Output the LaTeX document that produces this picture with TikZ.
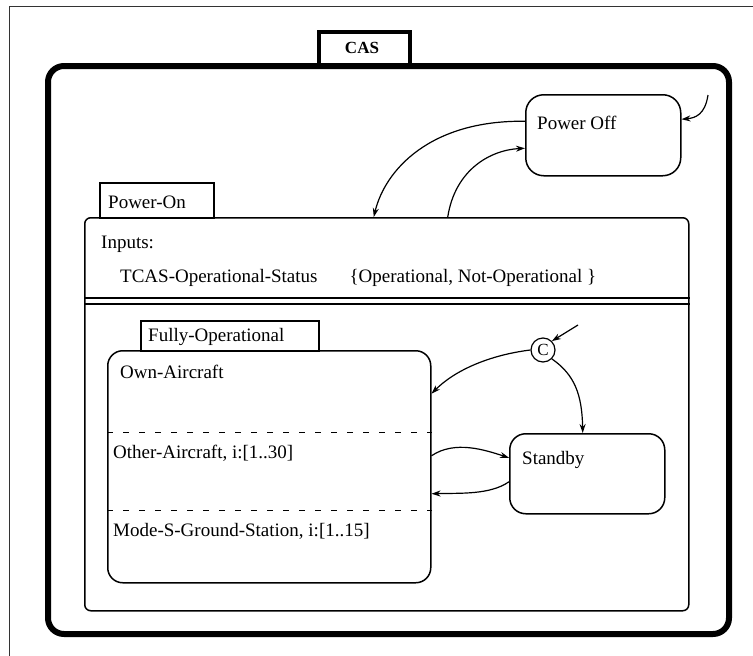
\documentclass[tikz,border=0pt]{standalone}
\usepackage{fontspec}
\setmainfont{Liberation Serif}
\usepackage{tikz}
\usetikzlibrary{arrows.meta, positioning, calc}

\tikzset{
  state/.style={draw, line width=1.5pt, rounded corners=16pt, anchor=north west, inner sep=0pt},
  tabbox/.style={draw, line width=1.5pt, anchor=north west, inner sep=0pt},
  lbl/.style={anchor=base west, inner sep=0pt, font=\fontsize{19}{22}\selectfont},
  trans/.style={-{Stealth[length=9pt,width=6pt]}, line width=1.2pt},
  sepline/.style={dashed, dash pattern=on 6pt off 10pt, line width=1pt},
}

\begin{document}
\begin{tikzpicture}[x=1pt, y=-1pt]
\useasboundingbox (0,0) rectangle (753,656);
\draw[line width=0.8pt, black!80] (9,656) -- (9,6) -- (753,6);

% CAS
\node[state, line width=6pt, rounded corners=16pt, minimum width=681pt, minimum height=568pt] (cas) at (45,63) {};
\node[tabbox, line width=4pt, fill=white, minimum width=91pt, minimum height=33pt] (castab) at (317,30) {};
\node[anchor=base, inner sep=0pt, font=\fontsize{17}{20}\selectfont\bfseries] (caslbl) at (362,53) {CAS};

% Power Off
\node[state, rounded corners=18pt, minimum width=155pt, minimum height=81pt] (poweroff) at (525,94) {};
\node[lbl] (powerofflbl) at (537,129) {Power Off};

% Power-On
\node[tabbox, minimum width=114pt, minimum height=35pt] (pontab) at (99,182) {};
\node[lbl] (pontablbl) at (108,208) {Power-On};
\node[state, rounded corners=6pt, minimum width=604pt, minimum height=393pt] (poweron) at (84,217) {};
\node[lbl] (inputs) at (101,248) {Inputs:};
\node[lbl] (tcas) at (120,282) {TCAS-Operational-Status\hspace{32pt}\{Operational, Not-Operational \}};
\draw[line width=2pt] (poweron.west |- 0,298) -- (poweron.east |- 0,298);
\draw[line width=2pt] (poweron.west |- 0,304) -- (poweron.east |- 0,304);

% Fully-Operational
\node[tabbox, minimum width=178pt, minimum height=30pt] (fotab) at (140,320) {};
\node[lbl] (fotablbl) at (148,341) {Fully-Operational};
\node[state, rounded corners=15pt, minimum width=323pt, minimum height=232pt] (fullyop) at (107,350) {};
\node[lbl] (ownac) at (120,378) {Own-Aircraft};
\draw[sepline] (fullyop.west |- 0,432) -- (fullyop.east |- 0,432);
\node[lbl] (otherac) at (113,458) {Other-Aircraft, i:[1..30]};
\draw[sepline] (fullyop.west |- 0,510) -- (fullyop.east |- 0,510);
\node[lbl] (modes) at (113,536) {Mode-S-Ground-Station, i:[1..15]};

% Standby and condition connector
\node[state, minimum width=155pt, minimum height=80pt] (standby) at (509,433) {};
\node[lbl] (standbylbl) at (522,464) {Standby};
\node[draw, circle, line width=1.2pt, minimum size=24pt, inner sep=0pt, font=\fontsize{17}{20}\selectfont] (cond) at (543,350) {C};

% transitions
\coordinate (offdef) at (708,95);
\coordinate (conddef) at (578,325);
\draw[trans] (offdef) .. controls (705,115) and (695,118) .. ([yshift=16pt]poweroff.east);
\draw[trans] ([yshift=14pt]poweroff.west) .. controls (430,120) and (385,170) .. ([xshift=-13pt]poweron.north);
\draw[trans] ([xshift=61pt]poweron.north) .. controls (455,170) and (490,150) .. ([yshift=-13pt]poweroff.west);
\draw[trans] (conddef) -- (cond.north east);
\draw[trans] (cond.west) .. controls (490,355) and (455,370) .. ([yshift=73pt]fullyop.east);
\draw[trans] (cond.south east) .. controls (575,375) and (582,395) .. ([xshift=-4.5pt]standby.north);
\draw[trans] ([yshift=11pt]fullyop.east) .. controls (455,440) and (485,450) .. ([yshift=16pt]standby.west);
\draw[trans] ([yshift=-8pt]standby.west) .. controls (490,495) and (460,493) .. ([yshift=-27pt]fullyop.east);
\end{tikzpicture}
\end{document}
